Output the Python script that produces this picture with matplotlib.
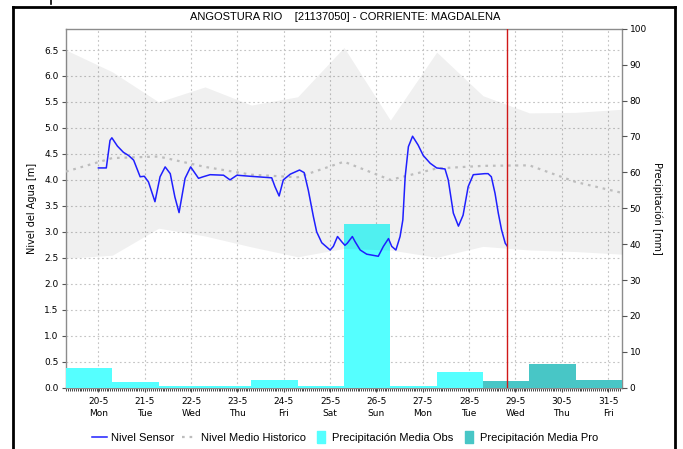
import numpy as np
import matplotlib
matplotlib.use("Agg")
import matplotlib.pyplot as plt
from matplotlib.lines import Line2D

# --- data (day of May) ---
# sensor water level [m]
sensor_day = [20.00, 20.17, 20.25, 20.29, 20.41, 20.54, 20.65, 20.76, 20.90, 20.99,
              21.08, 21.22, 21.33, 21.44, 21.55, 21.65, 21.74, 21.87, 21.99, 22.16,
              22.26, 22.41, 22.70, 22.84, 22.99, 23.27, 23.74, 23.81, 23.90, 23.99,
              24.14, 24.34, 24.44, 24.53, 24.64, 24.71, 24.82, 25.00, 25.07, 25.16,
              25.25, 25.32, 25.37, 25.48, 25.54, 25.65, 25.79, 26.04, 26.15, 26.26,
              26.33, 26.42, 26.51, 26.57, 26.62, 26.69, 26.78, 26.90, 27.01, 27.16,
              27.30, 27.48, 27.55, 27.66, 27.77, 27.87, 27.98, 28.09, 28.34, 28.41,
              28.48, 28.56, 28.63, 28.70, 28.78, 28.82]
sensor_lvl = [4.23, 4.23, 4.76, 4.81, 4.65, 4.53, 4.47, 4.38, 4.06, 4.07,
              3.96, 3.58, 4.06, 4.25, 4.12, 3.67, 3.37, 4.03, 4.25, 4.03,
              4.06, 4.10, 4.09, 4.00, 4.09, 4.07, 4.04, 3.87, 3.69, 4.00,
              4.11, 4.19, 4.14, 3.80, 3.29, 3.00, 2.79, 2.65, 2.72, 2.91,
              2.81, 2.74, 2.78, 2.91, 2.81, 2.65, 2.57, 2.53, 2.72, 2.87,
              2.72, 2.65, 2.91, 3.23, 4.06, 4.64, 4.84, 4.67, 4.47, 4.32,
              4.23, 4.21, 4.00, 3.36, 3.11, 3.32, 3.87, 4.10, 4.12, 4.12,
              4.06, 3.74, 3.36, 3.04, 2.78, 2.73]

# historic band / mean (daily points)
hist_day = [19.3, 20.3, 21.3, 22.3, 23.3, 24.3, 25.3, 26.3, 27.3, 28.3, 29.3, 30.3, 31.3]
hist_max = [6.50, 6.08, 5.50, 5.79, 5.44, 5.60, 6.55, 5.15, 6.46, 5.62, 5.29, 5.30, 5.36]
hist_min = [2.49, 2.55, 3.07, 2.92, 2.71, 2.52, 2.68, 2.65, 2.51, 2.72, 2.65, 2.62, 2.57]
hist_mean = [4.16, 4.42, 4.45, 4.25, 4.10, 4.05, 4.35, 4.00, 4.22, 4.27, 4.28, 3.96, 3.75]

# daily precipitation [mm], bars start at 07h of the given day
obs_start = [18.3, 19.3, 20.3, 21.3, 22.3, 23.3, 24.3, 25.3, 26.3, 27.3]
obs_mm = [11.5, 5.6, 1.6, 0.5, 0.6, 2.2, 0.6, 45.5, 0.6, 4.4]
pro_start = [28.3, 29.3, 30.3]
pro_mm = [1.9, 6.7, 2.2]

now_day = 28.82

tick_days = list(range(20, 32))
tick_labels = ["20-5\nMon", "21-5\nTue", "22-5\nWed", "23-5\nThu", "24-5\nFri", "25-5\nSat",
               "26-5\nSun", "27-5\nMon", "28-5\nTue", "29-5\nWed", "30-5\nThu", "31-5\nFri"]

c_obs = "#55FFFF"
c_pro = "#48C6C6"
c_sensor = "#1F1FFF"
c_mean = "#BDBDBD"

fig = plt.figure(figsize=(6.83, 4.49), dpi=100)
pos = [66/683, 1-387.7/449, (622-66)/683, (387.7-28.7)/449]

# base axis: grid + left ticks
ax = fig.add_axes(pos)
ax.set_xlim(19.30, 31.30)
ax.set_ylim(0, 6.91)
ax.set_yticks(np.arange(0, 6.51, 0.5))
ax.set_yticklabels([f"{v:.1f}" for v in np.arange(0, 6.51, 0.5)])
ax.set_xticks(tick_days)
ax.set_xticklabels(tick_labels, linespacing=1.4)
ax.set_xticks(np.arange(19.30, 31.30, 1/24), minor=True)
ax.grid(True, which="major", color="#C4C4C4", linestyle=(0, (1.6, 2.4)), linewidth=0.8)
ax.tick_params(axis="y", labelsize=6.5, length=3, width=0.8, color="#555555", pad=2.5)
ax.tick_params(axis="x", which="major", labelsize=6.5, length=3, width=0.8, color="#555555", pad=4)
ax.tick_params(axis="x", which="minor", length=2, width=0.7, color="#444444")
for s in ax.spines.values():
    s.set_color("#8C8C8C")
    s.set_linewidth(1.0)

# precipitation bars on right axis
axp = ax.twinx()
axp.set_ylim(0, 100)
axp.set_yticks(np.arange(0, 101, 10))
axp.tick_params(axis="y", labelsize=6.5, length=3.5, width=0.8, color="#555555", pad=2)
axp.bar(obs_start, obs_mm, width=1.0, align="edge", color=c_obs, linewidth=0)
axp.bar(pro_start, pro_mm, width=1.0, align="edge", color=c_pro, linewidth=0)
for s in axp.spines.values():
    s.set_visible(False)

# level series drawn on top of the bars
axl = ax.twinx()
axl.set_ylim(ax.get_ylim())
axl.set_yticks([])
for s in axl.spines.values():
    s.set_visible(False)
axl.fill_between(hist_day, hist_min, hist_max, color="black", alpha=0.06, linewidth=0)
axl.plot(hist_day, hist_mean, color=c_mean, linewidth=1.6, linestyle=(0, (1.2, 2.2)))
axl.plot(sensor_day, sensor_lvl, color=c_sensor, linewidth=1.1)
axl.axvline(now_day, color="#D01818", linewidth=1.0)
axl.set_xlim(19.30, 31.30)

fig.text(345/683, 1-16.5/449, "ANGOSTURA RIO    [21137050] - CORRIENTE: MAGDALENA",
         ha="center", va="center", fontsize=8, family="Liberation Sans")
fig.text(32/683, 1-208/449, "Nivel del Agua [m]", rotation=90, ha="center", va="center", fontsize=7)
fig.text(657/683, 1-208/449, "Precipitación [mm]", rotation=270, ha="center", va="center", fontsize=7)

rect = [(-0.32, -0.5), (0.32, -0.5), (0.32, 0.5), (-0.32, 0.5), (-0.32, -0.5)]
handles = [
    Line2D([], [], color=c_sensor, linewidth=1.1),
    Line2D([], [], color=c_mean, linewidth=1.6, linestyle=(0, (1.2, 2.2))),
    Line2D([], [], color=c_obs, marker=rect, markersize=8, linestyle="none"),
    Line2D([], [], color=c_pro, marker=rect, markersize=8, linestyle="none"),
]
labels = ["Nivel Sensor", "Nivel Medio Historico", "Precipitación Media Obs", "Precipitación Media Pro"]
fig.legend(handles, labels, loc="center", bbox_to_anchor=(345/683, 1-438/449), ncol=4,
           frameon=False, prop={"family": "Liberation Sans", "size": 8},
           handlelength=1.4, handletextpad=0.3, columnspacing=0.7)

# outer frame
frame_kw = dict(color="black", linewidth=2.0, transform=fig.transFigure)
fig.add_artist(Line2D([13/683, 13/683], [0, 1-7/449], **frame_kw))
fig.add_artist(Line2D([13/683, 675/683], [1-7/449, 1-7/449], **frame_kw))
fig.add_artist(Line2D([675/683, 675/683], [1-7/449, 0], **frame_kw))
fig.add_artist(Line2D([51/683, 51/683], [1-3.5/449, 1], color="black", linewidth=1.2,
                      transform=fig.transFigure))

fig.savefig("out.png", dpi=100)
